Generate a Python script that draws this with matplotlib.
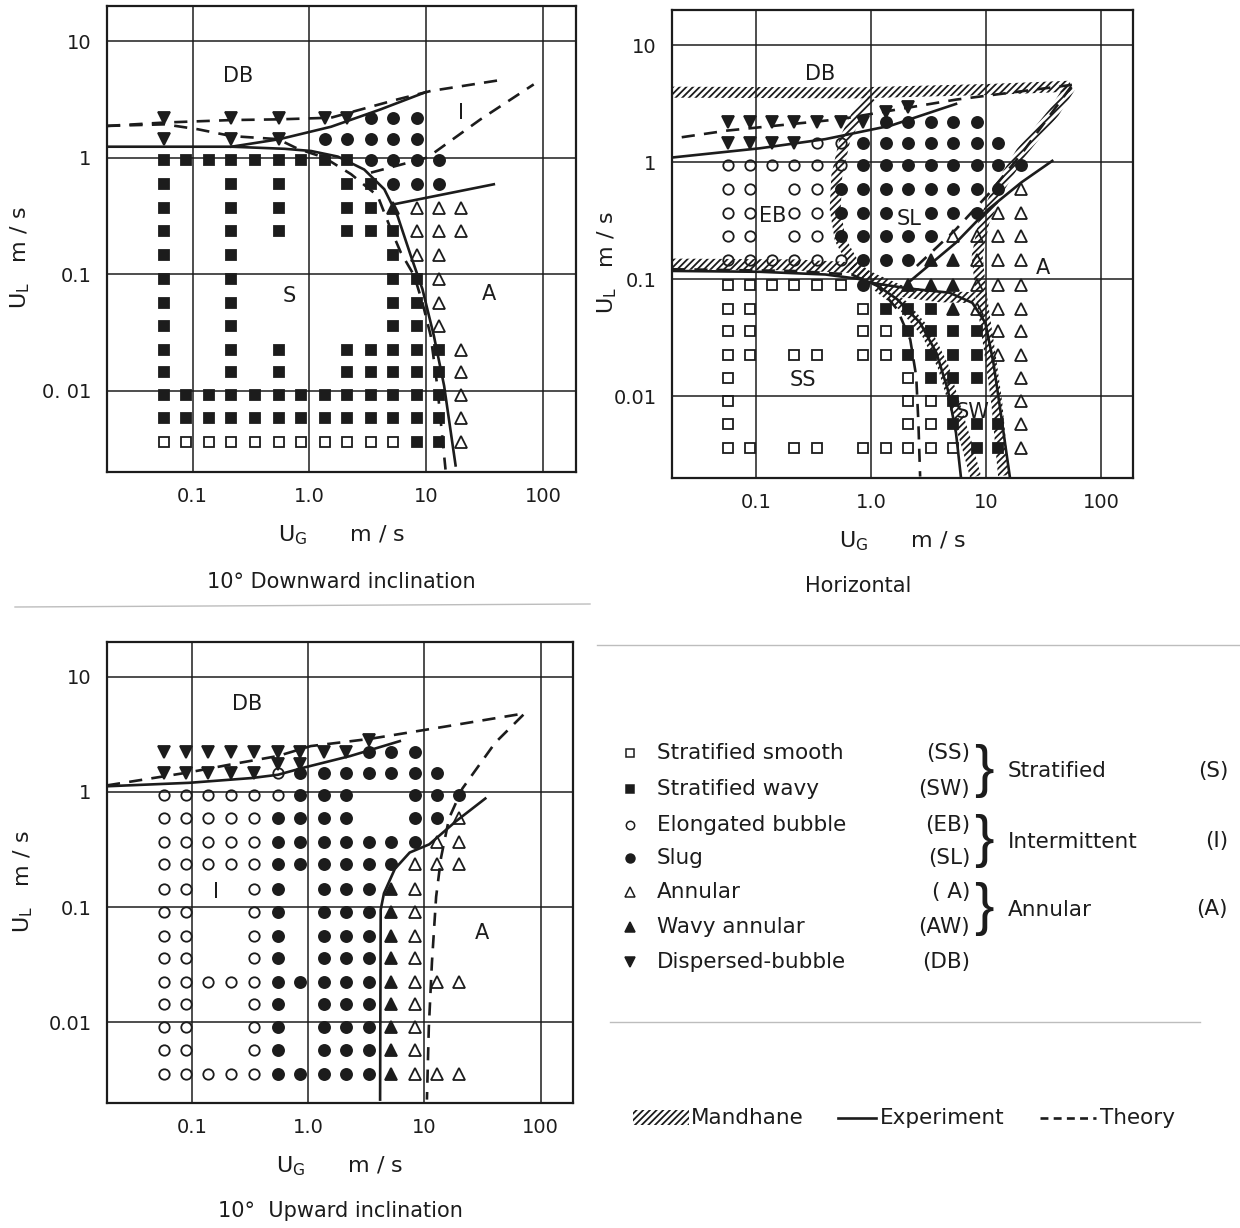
import numpy as np
import matplotlib.pyplot as plt
from matplotlib.patches import Polygon, Rectangle

plt.rcParams['font.family'] = 'DejaVu Sans'
plt.rcParams['mathtext.default'] = 'regular'
plt.rcParams['hatch.linewidth'] = 1.3

# measurement grid (gas velocity columns, liquid velocity rows), m/s
UG_COLS = [0.057, 0.088, 0.138, 0.215, 0.34, 0.545, 0.85, 1.36, 2.1, 3.35, 5.2, 8.3, 12.8, 20]
UL_ROWS = [2.2, 1.45, 0.95, 0.59, 0.37, 0.235, 0.145, 0.09, 0.056, 0.036, 0.0225, 0.0144, 0.0092, 0.0058, 0.0036]

# observed regime per grid cell: s=SS S=SW o=EB O=SL a=A A=AW v=DB
DOWN_GRID = [
    "v..v.v.vvOOO..",
    "v..v.v.OOOOO..",
    "SSSSSSSSSOOOO.",
    "S..S.S..SSOOO.",
    "S..S.S..SSAaaa",
    "S..S.S..SSSaaa",
    "S..S......Saa.",
    "S..S......SSa.",
    "S..S......SSa.",
    "S..S......SSa.",
    "S..S.S..SSSSSa",
    "S..S.S..SSSSSa",
    "SSSSSSSSSSSSSa",
    "SSSSSSSSSSSSSa",
    "sssssssssssSSa",
]
HORIZ_GRID = [
    "vvvvvvvOOOOO..",
    "vvvvooOOOOOOO.",
    "ooooooOOOOOOOO",
    "oo.ooOOOOOOOOa",
    "oo.ooOOO.OOOaa",
    "oo.ooOOOOOaaaa",
    "ooooooOOOAAaaa",
    "ssssssO.AAAaaa",
    "ss....sSSSAaaa",
    "ss....ssSSSSaa",
    "ss.ss.ssSSSSaa",
    "s.......sSSS.a",
    "s.......ssS..a",
    "s.......ssSSSa",
    "ss.ss.sssssSSa",
]
UP_GRID = [
    "vvvvvvvvvOOO..",
    "vvvvvoOOOOOOO.",
    "ooooooOOO..OOO",
    "oooooOOOO..OOa",
    "oooooOOOOOOOaa",
    "oooooOOOOOOaaa",
    "oo..oO.OOOAa..",
    "oo..oO.OOOAa..",
    "oo..oO.OOOAa..",
    "oo..oO.OOOAa..",
    "oooooOOOOOAaaa",
    "oo..oO.OOOAa..",
    "oo..oO.OOOAa..",
    "oo..oO.OOOAa..",
    "oooooOOOOOAaaa",
]
HORIZ_DB_UG = [1.36, 2.1]
HORIZ_DB_UL = [2.7, 3.0]
UP_DB_UG = [0.545, 0.85, 3.35]
UP_DB_UL = [1.75, 1.75, 2.85]

# 10 deg downward: transition boundaries
DOWN_T_S_UG = [0.0185, 0.058, 0.111, 0.215, 0.537, 0.795, 1.34, 2.27, 3.83, 4.97, 6.05, 7.87, 9.26, 10.9, 12.4, 14.6]
DOWN_T_S_UL = [1.87, 1.93, 1.75, 1.53, 1.44, 1.19, 1.0, 0.72, 0.47, 0.243, 0.153, 0.097, 0.057, 0.0296, 0.011, 0.0021]
DOWN_E_S_UG = [0.0185, 0.215, 0.612, 1.03, 1.75, 2.94, 4.37, 5.67, 7.36, 9.26, 11.6, 14.2, 17.8]
DOWN_E_S_UL = [1.24, 1.24, 1.19, 1.14, 1.02, 0.79, 0.535, 0.316, 0.144, 0.0744, 0.0296, 0.011, 0.00228]
DOWN_T_DB_UG = [0.0185, 0.058, 0.215, 0.555, 1.53, 5.67, 10.9, 43.1]
DOWN_T_DB_UL = [1.87, 2.0, 2.1, 2.13, 2.2, 3.16, 3.73, 4.63]
DOWN_E_DB_UG = [0.215, 0.555, 1.53, 4.09, 9.9]
DOWN_E_DB_UL = [1.24, 1.44, 1.84, 2.6, 3.65]
DOWN_T_IA_UG = [3.36, 10.2, 29.1, 83]
DOWN_T_IA_UL = [0.743, 1.0, 2.13, 4.25]
DOWN_E_IA_UG = [5.31, 37.8]
DOWN_E_IA_UL = [0.398, 0.59]

# horizontal: Mandhane bands, experiment, theory
HOR_M_TOP_UG = [0.0185, 0.77, 10.5, 54]
HOR_M_TOP_UL = [3.98, 3.93, 4.2, 4.48]
HOR_M_RIGHT_UG = [54, 39, 20.3, 12.8, 9.55, 8.38, 8.95, 9.87, 10.9, 12.4, 14.2]
HOR_M_RIGHT_UL = [4.4, 2.68, 1.22, 0.59, 0.306, 0.158, 0.082, 0.0425, 0.022, 0.0088, 0.0021]
HOR_M_EBSL_UG = [1.0, 0.77, 0.593, 0.503, 0.487, 0.537, 0.721, 1.07]
HOR_M_EBSL_UL = [3.61, 2.68, 1.58, 0.769, 0.398, 0.22, 0.13, 0.0936]
HOR_M_SI_UG = [0.0185, 0.208, 0.676, 1.07, 1.92, 3.95, 8.1]
HOR_M_SI_UL = [0.135, 0.133, 0.126, 0.1, 0.078, 0.071, 0.0697]
HOR_M_SSSW_UG = [1.14, 1.92, 3.04, 4.22, 5.48, 6.89, 8.1]
HOR_M_SSSW_UL = [0.0877, 0.059, 0.0349, 0.0181, 0.0077, 0.0037, 0.00206]
HOR_E_DB_UG = [0.0185, 0.108, 0.4, 1.48, 5.48]
HOR_E_DB_UL = [1.1, 1.32, 1.58, 2.06, 3.16]
HOR_E_S_UG = [0.0185, 0.108, 0.4, 0.77, 1.07, 1.69, 2.67, 3.7, 4.65, 5.48, 6.04]
HOR_E_S_UL = [0.118, 0.116, 0.11, 0.101, 0.0924, 0.0674, 0.0425, 0.0235, 0.0114, 0.00485, 0.00206]
HOR_E_SWA_UG = [1.07, 2.19, 4.81, 7.6, 9.87, 11.6, 13.3, 16.1]
HOR_E_SWA_UL = [0.0924, 0.0832, 0.0769, 0.063, 0.0425, 0.0193, 0.0077, 0.00206]
HOR_E_IA_UG = [2.19, 5.48, 10.5, 20.3, 37.7]
HOR_E_IA_UL = [0.0968, 0.206, 0.398, 0.674, 1.03]
HOR_T_DB_UG = [0.0225, 0.056, 0.208, 0.555, 1.48, 5.48, 55.9]
HOR_T_DB_UL = [1.64, 1.87, 2.13, 2.35, 2.77, 3.44, 4.6]
HOR_T_S_UG = [0.0185, 0.208, 0.676, 1.14, 1.69, 2.19, 2.47, 2.58, 2.67]
HOR_T_S_UL = [0.122, 0.118, 0.11, 0.0877, 0.0553, 0.0306, 0.0148, 0.0059, 0.00206]
HOR_T_IA_UG = [2.5, 5.48, 10.5, 20.3, 55.9]
HOR_T_IA_UL = [0.13, 0.268, 0.535, 1.18, 4.54]

# 10 deg upward
UP_T_UG = [0.0185, 0.0944, 0.22, 0.548, 1.05, 3.41, 15.3, 73, 40.6, 21.2, 16.3, 13.9, 12.6, 11.6, 10.9, 10.5]
UP_T_UL = [1.14, 1.48, 1.74, 2.05, 2.5, 2.89, 3.7, 4.81, 2.67, 1.07, 0.593, 0.27, 0.123, 0.0333, 0.009, 0.00214]
UP_E_DB_UG = [0.0185, 0.0944, 0.326, 0.548, 0.925, 2.3, 6.13]
UP_E_DB_UL = [1.12, 1.2, 1.32, 1.41, 1.63, 2.05, 2.76]
UP_E_IA_UG = [33.4, 18.6, 11.0, 7.46, 5.56, 4.48, 4.2, 4.15]
UP_E_IA_UL = [0.877, 0.555, 0.351, 0.298, 0.215, 0.132, 0.095, 0.00214]

LEGEND_NAMES = ['Stratified smooth', 'Stratified wavy', 'Elongated bubble', 'Slug',
                'Annular', 'Wavy annular', 'Dispersed-bubble']
LEGEND_ABBR = ['(SS)', '(SW)', '(EB)', '(SL)', '( A)', '(AW)', '(DB)']
LEGEND_CODES = ['s', 'S', 'o', 'O', 'a', 'A', 'v']
GROUP_NAMES = ['Stratified', 'Intermittent', 'Annular']
GROUP_ABBR = ['(S)', '(I)', '(A)']

INK = '#1c1c1c'
STYLE = {
    's': dict(marker='s', mfc='none', ms=7),
    'S': dict(marker='s', mfc=INK, ms=7),
    'o': dict(marker='o', mfc='none', ms=7.5),
    'O': dict(marker='o', mfc=INK, ms=8),
    'a': dict(marker='^', mfc='none', ms=9),
    'A': dict(marker='^', mfc=INK, ms=9),
    'v': dict(marker='v', mfc=INK, ms=9),
}


def setup(ax, ylabels, label_x, label_y):
    ax.set_xscale('log')
    ax.set_yscale('log')
    ax.set_xlim(0.0185, 190)
    ax.set_ylim(0.002, 20)
    ax.set_xticks([0.1, 1, 10, 100])
    ax.set_xticklabels(['0.1', '1.0', '10', '100'])
    ax.set_yticks([0.01, 0.1, 1, 10])
    ax.set_yticklabels(ylabels)
    ax.minorticks_off()
    ax.tick_params(length=0, labelsize=14, pad=11, colors=INK)
    ax.grid(True, color=INK, lw=1.1)
    ax.set_axisbelow(True)
    for sp in ax.spines.values():
        sp.set_linewidth(1.6)
        sp.set_color(INK)
    ax.set_xlabel(r'$U_G$      m / s', fontsize=16, labelpad=12, color=INK)
    ax.set_ylabel(r'$U_L$   m / s', fontsize=16, color=INK)
    ax.yaxis.set_label_coords(label_x, label_y)


def scatter_grid(ax, grid):
    for code, st in STYLE.items():
        xs, ys = [], []
        for r, line in enumerate(grid):
            for c, ch in enumerate(line):
                if ch == code:
                    xs.append(UG_COLS[c])
                    ys.append(UL_ROWS[r])
        ax.plot(xs, ys, ls='none', mec=INK, mew=1.3, zorder=3, **st)


def solid(ax, x, y):
    ax.plot(x, y, color=INK, lw=1.9, zorder=4)


def dashed(ax, x, y):
    ax.plot(x, y, color=INK, lw=1.9, ls=(0, (5, 3.5)), zorder=4)


def mandhane(ax, x, y, width=11):
    pts = ax.transData.transform(np.column_stack([x, y]))
    d = np.gradient(pts, axis=0)
    nrm = np.column_stack([-d[:, 1], d[:, 0]])
    nrm /= np.hypot(nrm[:, 0], nrm[:, 1])[:, None]
    poly = np.vstack([pts + nrm * width / 2, (pts - nrm * width / 2)[::-1]])
    ax.add_patch(Polygon(ax.transData.inverted().transform(poly), closed=True,
                         facecolor='none', edgecolor=INK, hatch='/////', lw=0, zorder=2))


def region(ax, x, y, s):
    ax.text(x, y, s, fontsize=15, ha='center', va='center', color=INK, zorder=5)


fig = plt.figure(figsize=(12.4, 12.28), dpi=100)

# 10 deg downward inclination
ax1 = fig.add_axes([0.0863, 0.6156, 0.378, 0.3795])
setup(ax1, ['0. 01', '0.1', '1', '10'], -0.16, 0.46)
scatter_grid(ax1, DOWN_GRID)
dashed(ax1, DOWN_T_S_UG, DOWN_T_S_UL)
dashed(ax1, DOWN_T_DB_UG, DOWN_T_DB_UL)
dashed(ax1, DOWN_T_IA_UG, DOWN_T_IA_UL)
solid(ax1, DOWN_E_S_UG, DOWN_E_S_UL)
solid(ax1, DOWN_E_DB_UG, DOWN_E_DB_UL)
solid(ax1, DOWN_E_IA_UG, DOWN_E_IA_UL)
region(ax1, 0.245, 5.0, 'DB')
region(ax1, 19.7, 2.43, 'I')
region(ax1, 0.675, 0.065, 'S')
region(ax1, 34.3, 0.067, 'A')
ax1.text(0.5, -0.235, '10° Downward inclination', transform=ax1.transAxes,
         ha='center', va='center', fontsize=15, color=INK)

# horizontal
ax2 = fig.add_axes([0.5419, 0.6107, 0.3718, 0.381])
setup(ax2, ['0.01', '0.1', '1', '10'], -0.115, 0.46)
for mx, my in [(HOR_M_TOP_UG, HOR_M_TOP_UL), (HOR_M_RIGHT_UG, HOR_M_RIGHT_UL),
               (HOR_M_EBSL_UG, HOR_M_EBSL_UL), (HOR_M_SI_UG, HOR_M_SI_UL),
               (HOR_M_SSSW_UG, HOR_M_SSSW_UL)]:
    mandhane(ax2, mx, my)
scatter_grid(ax2, HORIZ_GRID)
ax2.plot(HORIZ_DB_UG, HORIZ_DB_UL, ls='none', mec=INK, mew=1.3, zorder=3, **STYLE['v'])
solid(ax2, HOR_E_DB_UG, HOR_E_DB_UL)
solid(ax2, HOR_E_S_UG, HOR_E_S_UL)
solid(ax2, HOR_E_SWA_UG, HOR_E_SWA_UL)
solid(ax2, HOR_E_IA_UG, HOR_E_IA_UL)
dashed(ax2, HOR_T_DB_UG, HOR_T_DB_UL)
dashed(ax2, HOR_T_S_UG, HOR_T_S_UL)
dashed(ax2, HOR_T_IA_UG, HOR_T_IA_UL)
region(ax2, 0.363, 5.7, 'DB')
region(ax2, 0.14, 0.35, 'EB')
region(ax2, 2.12, 0.327, 'SL')
region(ax2, 31, 0.126, 'A')
region(ax2, 0.253, 0.0139, 'SS')
region(ax2, 7.6, 0.0074, 'SW')
ax2.text(0.405, -0.23, 'Horizontal', transform=ax2.transAxes,
         ha='center', va='center', fontsize=15, color=INK)

# 10 deg upward inclination
ax3 = fig.add_axes([0.0863, 0.1018, 0.3758, 0.3754])
setup(ax3, ['0.01', '0.1', '1', '10'], -0.155, 0.48)
scatter_grid(ax3, UP_GRID)
ax3.plot(UP_DB_UG, UP_DB_UL, ls='none', mec=INK, mew=1.3, zorder=3, **STYLE['v'])
dashed(ax3, UP_T_UG, UP_T_UL)
solid(ax3, UP_E_DB_UG, UP_E_DB_UL)
solid(ax3, UP_E_IA_UG, UP_E_IA_UL)
region(ax3, 0.295, 5.85, 'DB')
region(ax3, 0.159, 0.136, 'I')
region(ax3, 31.3, 0.06, 'A')
ax3.text(0.5, -0.235, '10°  Upward inclination', transform=ax3.transAxes,
         ha='center', va='center', fontsize=15, color=INK)

# legend panel drawn in page pixel coordinates
lax = fig.add_axes([0, 0, 1, 1], facecolor='none')
lax.set_xlim(0, 1240)
lax.set_ylim(1228, 0)
lax.axis('off')
lax.plot([15, 590], [607, 604], color='#bdbdbd', lw=1)
lax.plot([597, 1240], [645, 645], color='#bdbdbd', lw=1)
lax.plot([610, 1200], [1022, 1022], color='#bdbdbd', lw=1)

row_y = [753, 789, 825, 858, 892, 927, 962]
for yy, name, abbr, code in zip(row_y, LEGEND_NAMES, LEGEND_ABBR, LEGEND_CODES):
    st = dict(STYLE[code])
    st['ms'] = st['ms'] * 0.8
    lax.plot([630], [yy], ls='none', mec=INK, mew=1.1, **st)
    lax.text(657, yy, name, fontsize=15.5, va='center', ha='left', color=INK)
    lax.text(970, yy, abbr, fontsize=15.5, va='center', ha='right', color=INK)
for k, (gname, gabbr) in enumerate(zip(GROUP_NAMES, GROUP_ABBR)):
    yc = (row_y[2 * k] + row_y[2 * k + 1]) / 2
    lax.text(984, yc, '}', fontsize=42, va='center', ha='center', color=INK,
             fontweight='light', family='Liberation Sans')
    lax.text(1008, yc, gname, fontsize=15.5, va='center', ha='left', color=INK)
    lax.text(1228, yc, gabbr, fontsize=15.5, va='center', ha='right', color=INK)

lax.add_patch(Rectangle((633, 1110), 56, 15, facecolor='none', edgecolor=INK,
                        hatch='/////', lw=0))
lax.text(691, 1118, 'Mandhane', fontsize=15.5, va='center', ha='left', color=INK)
lax.plot([838, 876], [1118, 1118], color=INK, lw=1.9)
lax.text(880, 1118, 'Experiment', fontsize=15.5, va='center', ha='left', color=INK)
lax.plot([1040, 1096], [1118, 1118], color=INK, lw=1.9, ls=(0, (3, 2)))
lax.text(1100, 1118, 'Theory', fontsize=15.5, va='center', ha='left', color=INK)

fig.savefig('out.png', dpi=100)
